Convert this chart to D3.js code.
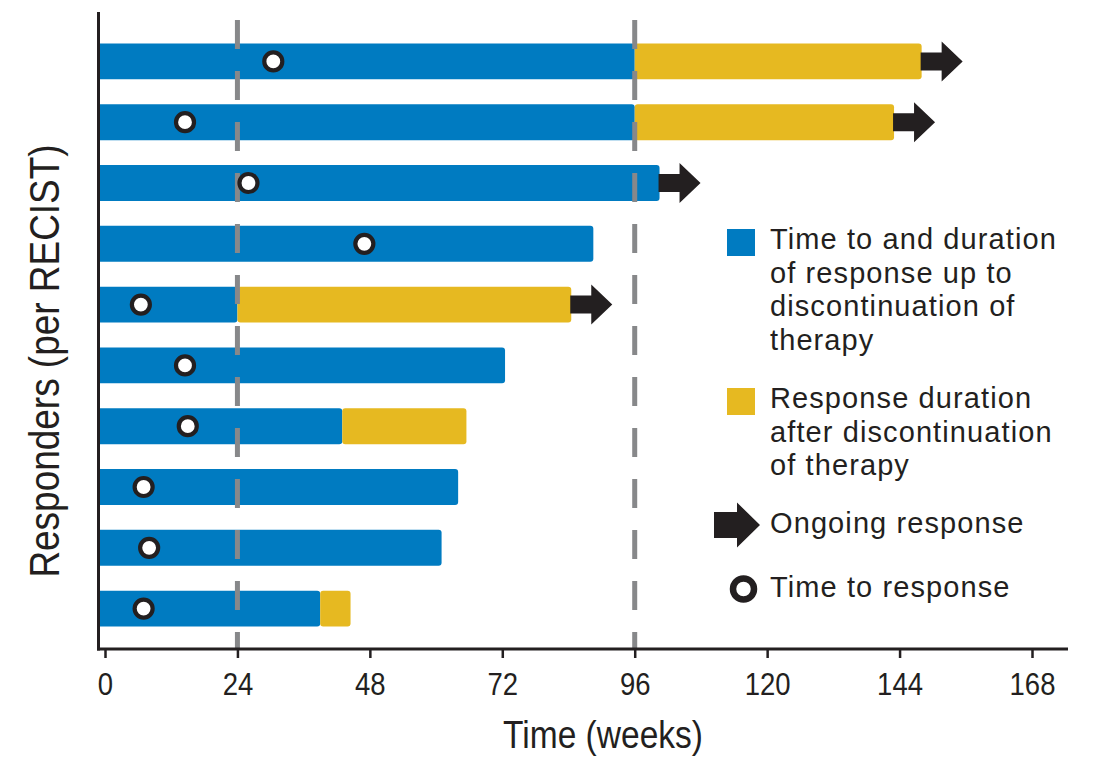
<!DOCTYPE html>
<html>
<head>
<meta charset="utf-8">
<script src="https://cdn.jsdelivr.net/npm/d3@7"></script>
<style>
  html, body { margin: 0; padding: 0; background: #fff; }
  svg { display: block; }
</style>
</head>
<body>
<svg id="chart" width="1096" height="760"></svg>
<script>
// Responders, top to bottom
const responders = ["P1", "P2", "P3", "P4", "P5", "P6", "P7", "P8", "P9", "P10"];
// Week at which therapy was discontinued (end of blue segment)
const therapyEnd = [96, 96, 100.5, 88.5, 24, 72.5, 43, 64, 61, 39];
// Week at which the response ended after discontinuation (end of yellow segment), null if none
const responseEnd = [148, 143, null, null, 84.5, null, 65.5, null, null, 44.5];
// Response still ongoing at data cutoff
const ongoing = [true, true, true, false, true, false, false, false, false, false];
// Week of first response
const timeToResponse = [30.5, 14.5, 26, 47, 6.5, 14.5, 15, 7, 8, 7];
// Axis ticks and reference lines (weeks)
const xTicks = [0, 24, 48, 72, 96, 120, 144, 168];
const referenceWeeks = [24, 96];

const legendItems = [
  { type: "blue", lines: ["Time to and duration", "of response up to", "discontinuation of", "therapy"] },
  { type: "yellow", lines: ["Response duration", "after discontinuation", "of therapy"] },
  { type: "arrow", lines: ["Ongoing response"] },
  { type: "circle", lines: ["Time to response"] }
];

const BLUE = "#007bc1";
const YELLOW = "#e6b921";
const INK = "#231f20";
const GREY = "#87888a";
const FONT = "'Liberation Sans', Arial, sans-serif";

const svg = d3.select("#chart");

const axisX = 98.5;
const axisY = 649;

const x = d3.scaleLinear().domain([0, 168]).range([105, 1032]);
const y = d3.scaleBand().domain(responders).range([31, 639])
  .paddingInner(0.41).paddingOuter(0.205);
const bh = y.bandwidth();

const rows = responders.map((id, i) => ({
  id,
  therapyEnd: therapyEnd[i],
  responseEnd: responseEnd[i],
  ongoing: ongoing[i],
  ttr: timeToResponse[i]
}));

// Bar with square left end and rounded right end
function rightRounded(x0, x1, top, h, r) {
  return `M${x0},${top}H${x1 - r}Q${x1},${top} ${x1},${top + r}` +
         `V${top + h - r}Q${x1},${top + h} ${x1 - r},${top + h}H${x0}Z`;
}

const bars = svg.append("g");
// Blue on-therapy segment
bars.selectAll("path.on")
  .data(rows).join("path")
  .attr("class", "on")
  .attr("d", d => rightRounded(axisX, x(d.therapyEnd), y(d.id), bh, 3))
  .attr("fill", BLUE);

// Yellow post-discontinuation segment
bars.selectAll("rect.off")
  .data(rows.filter(d => d.responseEnd != null)).join("rect")
  .attr("class", "off")
  .attr("x", d => x(d.therapyEnd))
  .attr("y", d => y(d.id))
  .attr("width", d => x(d.responseEnd) - x(d.therapyEnd))
  .attr("height", bh)
  .attr("rx", 3)
  .attr("fill", YELLOW);

// Dashed reference lines
svg.append("g").selectAll("line")
  .data(referenceWeeks).join("line")
  .attr("x1", d => x(d)).attr("x2", d => x(d))
  .attr("y1", 20).attr("y2", axisY)
  .attr("stroke", GREY)
  .attr("stroke-width", 5)
  .attr("stroke-dasharray", "29 22");

// Ongoing-response arrows
function arrowPath(x0, cy, shaftLen, shaftH, headLen, headH) {
  return `M${x0},${cy - shaftH / 2}H${x0 + shaftLen}V${cy - headH / 2}` +
         `L${x0 + shaftLen + headLen},${cy}L${x0 + shaftLen},${cy + headH / 2}` +
         `V${cy + shaftH / 2}H${x0}Z`;
}
svg.append("g").selectAll("path")
  .data(rows.filter(d => d.ongoing)).join("path")
  .attr("d", d => arrowPath(x(d.responseEnd != null ? d.responseEnd : d.therapyEnd) - 1,
                            y(d.id) + bh / 2, 21, 18, 21, 40))
  .attr("fill", INK);

// Time-to-response markers
svg.append("g").selectAll("circle")
  .data(rows).join("circle")
  .attr("cx", d => x(d.ttr))
  .attr("cy", d => y(d.id) + bh / 2)
  .attr("r", 9)
  .attr("fill", "#fff")
  .attr("stroke", INK)
  .attr("stroke-width", 4.2);

// Axes
const xAxis = d3.axisBottom(x).tickValues(xTicks).tickSize(9).tickPadding(10);
const gx = svg.append("g").attr("transform", `translate(0,${axisY})`).call(xAxis);
gx.select(".domain").remove();
gx.selectAll(".tick line").attr("stroke", INK).attr("stroke-width", 2.5);
gx.selectAll(".tick text")
  .attr("fill", INK)
  .attr("transform", "scale(0.86,1)")
  .attr("y", 46)
  .attr("dy", null)
  .style("font-family", FONT)
  .style("font-size", "32px");

svg.append("line")
  .attr("x1", 97).attr("x2", 1068)
  .attr("y1", axisY).attr("y2", axisY)
  .attr("stroke", INK).attr("stroke-width", 3);
svg.append("line")
  .attr("x1", axisX).attr("x2", axisX)
  .attr("y1", 12).attr("y2", axisY + 1.5)
  .attr("stroke", INK).attr("stroke-width", 3);

// Axis titles (condensed)
svg.append("text")
  .attr("transform", "translate(603,748) scale(0.86,1)")
  .attr("text-anchor", "middle")
  .attr("fill", INK)
  .style("font-family", FONT)
  .style("font-size", "39px")
  .text("Time (weeks)");

svg.append("text")
  .attr("transform", "translate(59,361) rotate(-90) scale(0.88,1)")
  .attr("text-anchor", "middle")
  .attr("fill", INK)
  .style("font-family", FONT)
  .style("font-size", "42px")
  .text("Responders (per RECIST)");

// Legend
const legend = svg.append("g")
  .style("font-family", FONT)
  .style("font-size", "29px")
  .style("letter-spacing", "1.1px")
  .attr("fill", INK);

const legendTop = [249, 408, 533, 597];
const lineGap = 33.5;
legendItems.forEach((item, i) => {
  const g = legend.append("g");
  const base = legendTop[i];
  if (item.type === "blue" || item.type === "yellow") {
    g.append("rect")
      .attr("x", 727).attr("y", base - 20)
      .attr("width", 28).attr("height", 27)
      .attr("fill", item.type === "blue" ? BLUE : YELLOW);
  } else if (item.type === "arrow") {
    g.append("path")
      .attr("d", arrowPath(714, base - 8, 23, 26, 23, 45))
      .attr("fill", INK);
  } else {
    g.append("circle")
      .attr("cx", 743.5).attr("cy", base - 8)
      .attr("r", 10.5)
      .attr("fill", "#fff")
      .attr("stroke", INK)
      .attr("stroke-width", 6.5);
  }
  item.lines.forEach((t, j) => {
    g.append("text")
      .attr("x", 770)
      .attr("y", base + j * lineGap)
      .text(t);
  });
});
</script>
</body>
</html>
